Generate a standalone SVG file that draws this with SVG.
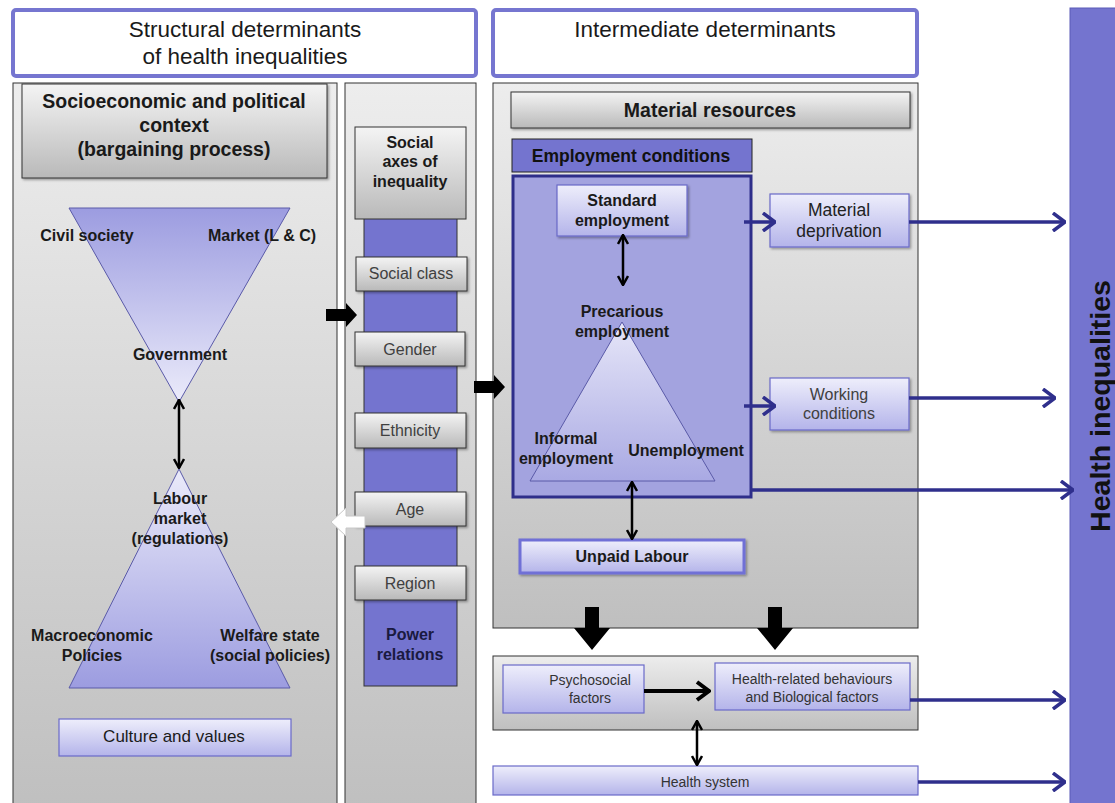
<svg xmlns="http://www.w3.org/2000/svg" width="1115" height="803" viewBox="0 0 1115 803">
<defs>
<linearGradient id="gPanel" x1="0" y1="0" x2="0" y2="1"><stop offset="0" stop-color="#ededed"/><stop offset="1" stop-color="#bfbfbf"/></linearGradient>
<linearGradient id="gGray" x1="0" y1="0" x2="0" y2="1"><stop offset="0" stop-color="#f4f4f4"/><stop offset="1" stop-color="#b9b9b9"/></linearGradient>
<linearGradient id="gLav" x1="0" y1="0" x2="0" y2="1"><stop offset="0" stop-color="#eeeefb"/><stop offset="1" stop-color="#b4b4ea"/></linearGradient>
<linearGradient id="gTriDown" x1="0" y1="0" x2="0" y2="1"><stop offset="0" stop-color="#9c9ce0"/><stop offset="1" stop-color="#ebebfa"/></linearGradient>
<linearGradient id="gTriUp" x1="0" y1="0" x2="0" y2="1"><stop offset="0" stop-color="#ebebfa"/><stop offset="1" stop-color="#9c9ce0"/></linearGradient>
<linearGradient id="gTriIn" x1="0" y1="0" x2="0" y2="1"><stop offset="0" stop-color="#e6e6f8"/><stop offset="1" stop-color="#a9a9e3"/></linearGradient>
<marker id="mBlk" viewBox="0 0 12 12" refX="11" refY="6" markerWidth="12" markerHeight="12" markerUnits="userSpaceOnUse" orient="auto-start-reverse"><path d="M2,1 L11,6 L2,11" fill="none" stroke="#000" stroke-width="2.5"/></marker>
<marker id="mBlkBig" viewBox="0 0 16 22" refX="15" refY="11" markerWidth="16" markerHeight="22" markerUnits="userSpaceOnUse" orient="auto"><path d="M2,2 L14,11 L2,20" fill="none" stroke="#000" stroke-width="4"/></marker>
<marker id="mBlue" viewBox="0 0 14 20" refX="13" refY="10" markerWidth="14" markerHeight="20" markerUnits="userSpaceOnUse" orient="auto"><path d="M1,1 L13,10 L1,19" fill="none" stroke="#2f2f8c" stroke-width="3.5"/></marker>
<filter id="sh" x="-10%" y="-10%" width="130%" height="130%"><feDropShadow dx="1.5" dy="1.5" stdDeviation="1.2" flood-color="#000" flood-opacity="0.35"/></filter>
</defs>
<style>
text{font-family:"Liberation Sans",Arial,sans-serif;text-anchor:middle;fill:#1a1a1a}
.hdr{fill:#fff;stroke:#7676d0;stroke-width:4}
.panel{fill:url(#gPanel);stroke:#333;stroke-width:1}
.gray{fill:url(#gGray);stroke:#333;stroke-width:1}
.lav{fill:url(#gLav);stroke:#6a6ac8;stroke-width:1.2}
.b18{font-size:19.5px;font-weight:bold}
.b15{font-size:16px;font-weight:bold}
.n15{font-size:16px;fill:#404040}
.n16{font-size:17.5px;fill:#222}
.nar{font-family:"Liberation Sans Narrow","Liberation Sans",Arial,sans-serif;font-size:14px;fill:#333}
.dbl{stroke:#000;stroke-width:2.5;fill:none;marker-start:url(#mBlk);marker-end:url(#mBlk)}
.blue{stroke:#2f2f8c;stroke-width:3.5;fill:none;marker-end:url(#mBlue)}
</style>

<g id="header-structural">
<rect class="hdr" x="13" y="10" width="463" height="66" rx="3"/>
<text x="245" y="37" style="font-size:22.5px">Structural determinants</text>
<text x="245" y="64" style="font-size:22.5px">of health inequalities</text>
</g>
<g id="header-intermediate">
<rect class="hdr" x="493" y="10" width="424" height="66" rx="3"/>
<text x="705" y="37" style="font-size:22.5px">Intermediate determinants</text>
</g>

<g id="panel-left"><rect class="panel" x="13" y="83" width="324" height="730"/></g>
<g id="panel-middle"><rect class="panel" x="345" y="83" width="131" height="730"/></g>
<g id="panel-material"><rect class="panel" x="493" y="83" width="425" height="545"/></g>
<g id="panel-lower"><rect class="panel" x="493" y="656" width="425" height="74"/></g>

<g id="health-inequalities">
<rect x="1070" y="8" width="50" height="800" fill="#7474cf" stroke="#5a5ab8" stroke-width="1"/>
<text transform="translate(1110,406) rotate(-90)" style="font-size:28.5px;font-weight:bold;fill:#111">Health inequalities</text>
</g>

<g id="socioeconomic-context">
<rect class="gray" x="22" y="84" width="305" height="94" filter="url(#sh)"/>
<text class="b18" x="174" y="108">Socioeconomic and political</text>
<text class="b18" x="174" y="132">context</text>
<text class="b18" x="174" y="156">(bargaining process)</text>
</g>

<g id="governance-triangle">
<polygon points="69,208 290,208 179,402" fill="url(#gTriDown)" stroke="#5a5aa8" stroke-width="1"/>
<text class="b15" x="87" y="241">Civil society</text>
<text class="b15" x="262" y="241">Market (L &amp; C)</text>
<text class="b15" x="180" y="360">Government</text>
</g>

<g id="policy-triangle">
<polygon points="179,469 290,688 69,688" fill="url(#gTriUp)" stroke="#5a5aa8" stroke-width="1"/>
<text class="b15" x="180" y="504">Labour</text>
<text class="b15" x="180" y="524">market</text>
<text class="b15" x="180" y="544">(regulations)</text>
<text class="b15" x="92" y="641">Macroeconomic</text>
<text class="b15" x="92" y="661">Policies</text>
<text class="b15" x="270" y="641">Welfare state</text>
<text class="b15" x="270" y="661">(social policies)</text>
</g>

<g id="culture-values">
<rect class="lav" x="59" y="719" width="232" height="37"/>
<text x="174" y="742" style="font-size:17px">Culture and values</text>
</g>

<g id="social-axes">
<rect x="364" y="215" width="93" height="471" fill="#7474cf" stroke="#333" stroke-width="1"/>
<rect class="gray" x="355" y="127" width="111" height="92"/>
<text class="b15" x="410" y="148">Social</text>
<text class="b15" x="410" y="167">axes of</text>
<text class="b15" x="410" y="187">inequality</text>
<text class="b15" x="410" y="640" style="fill:#1a1a40">Power</text>
<text class="b15" x="410" y="660" style="fill:#1a1a40">relations</text>
</g>
<g id="social-class"><rect class="gray" x="356" y="257" width="111" height="34" filter="url(#sh)"/><text class="n15" x="411" y="279">Social class</text></g>
<g id="gender"><rect class="gray" x="355" y="332" width="110" height="34" filter="url(#sh)"/><text class="n15" x="410" y="355">Gender</text></g>
<g id="ethnicity"><rect class="gray" x="355" y="413" width="111" height="35" filter="url(#sh)"/><text class="n15" x="410" y="436">Ethnicity</text></g>
<g id="age"><rect class="gray" x="355" y="492" width="111" height="34" filter="url(#sh)"/><text class="n15" x="410" y="515">Age</text></g>
<g id="region"><rect class="gray" x="355" y="566" width="111" height="34" filter="url(#sh)"/><text class="n15" x="410" y="589">Region</text></g>

<g id="material-resources">
<rect class="gray" x="511" y="92" width="399" height="36" filter="url(#sh)"/>
<text class="b18" x="710" y="117">Material resources</text>
</g>

<g id="employment-conditions">
<rect x="512" y="139" width="240" height="33" fill="#7474cf" stroke="#222" stroke-width="1"/>
<text x="631" y="162" style="font-size:17.5px;font-weight:bold;fill:#111">Employment conditions</text>
<rect x="513" y="176" width="238" height="321" fill="#a3a3df" stroke="#2e2e8a" stroke-width="3"/>
</g>

<g id="standard-employment">
<rect class="lav" x="557" y="185" width="130" height="51" filter="url(#sh)"/>
<text class="b15" x="622" y="206">Standard</text>
<text class="b15" x="622" y="226">employment</text>
</g>

<g id="employment-triangle">
<polygon points="622,322 715,481 530,481" fill="url(#gTriIn)" stroke="#5a5aa8" stroke-width="1"/>
<text class="b15" x="622" y="317">Precarious</text>
<text class="b15" x="622" y="337">employment</text>
<text class="b15" x="566" y="444">Informal</text>
<text class="b15" x="566" y="464">employment</text>
<text class="b15" x="686" y="456">Unemployment</text>
</g>

<g id="unpaid-labour">
<rect x="520" y="540" width="224" height="33" fill="url(#gLav)" stroke="#6f6fd6" stroke-width="3" filter="url(#sh)"/>
<text x="632" y="562" style="font-size:16px;font-weight:bold">Unpaid Labour</text>
</g>

<g id="material-deprivation">
<rect class="lav" x="770" y="194" width="139" height="53" filter="url(#sh)"/>
<text class="n16" x="839" y="216">Material</text>
<text class="n16" x="839" y="237">deprivation</text>
</g>

<g id="working-conditions">
<rect class="lav" x="770" y="378" width="139" height="52" filter="url(#sh)"/>
<text class="n15" x="839" y="400">Working</text>
<text class="n15" x="839" y="419">conditions</text>
</g>

<g id="psychosocial">
<rect class="lav" x="503" y="665" width="141" height="48"/>
<text class="nar" x="590" y="685">Psychosocial</text>
<text class="nar" x="590" y="703">factors</text>
</g>

<g id="health-behaviours">
<rect class="lav" x="715" y="663" width="195" height="47"/>
<text class="nar" x="812" y="684">Health-related behaviours</text>
<text class="nar" x="812" y="702">and Biological factors</text>
</g>

<g id="health-system">
<rect class="lav" x="493" y="766" width="425" height="29"/>
<text class="nar" x="705" y="787" style="font-size:14px">Health system</text>
</g>

<g id="connectors">
<line class="dbl" x1="179" y1="400" x2="179" y2="468"/>
<line class="dbl" x1="623" y1="235" x2="623" y2="285"/>
<line class="dbl" x1="632" y1="482" x2="632" y2="539"/>
<line class="dbl" x1="697" y1="721" x2="697" y2="765"/>
<line x1="644" y1="691" x2="710" y2="691" stroke="#000" stroke-width="4" marker-end="url(#mBlkBig)"/>
<polygon points="326,309 346,309 346,303 357,315 346,327 346,321 326,321" fill="#000"/>
<polygon points="474,381 494,381 494,375 505,387 494,399 494,393 474,393" fill="#000"/>
<polygon points="365,516 346,516 346,508 331,522 346,536 346,528 365,528" fill="#fff" stroke="#c8c8c8" stroke-width="1"/>
<polygon points="585,607 599,607 599,628 610,628 592,650 574,628 585,628" fill="#000"/>
<polygon points="768,607 782,607 782,628 793,628 775,650 757,628 768,628" fill="#000"/>
<line class="blue" x1="744" y1="222" x2="775" y2="222"/>
<line class="blue" x1="744" y1="406" x2="775" y2="406"/>
<line class="blue" x1="909" y1="222" x2="1065" y2="222"/>
<line class="blue" x1="909" y1="398" x2="1055" y2="398"/>
<line class="blue" x1="752" y1="490" x2="1073" y2="490"/>
<line class="blue" x1="910" y1="700" x2="1065" y2="700"/>
<line class="blue" x1="918" y1="782" x2="1065" y2="782"/>
</g>
</svg>
